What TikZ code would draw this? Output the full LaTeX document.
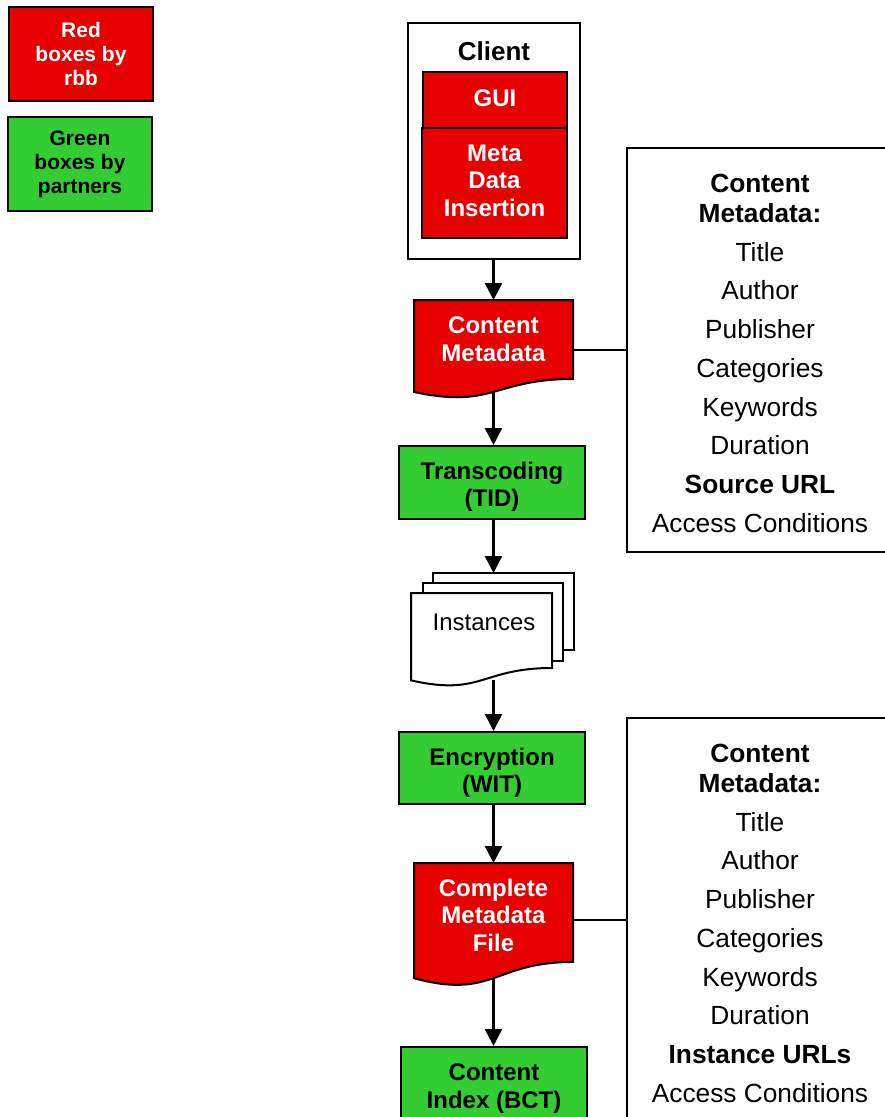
\documentclass[tikz,border=0pt]{standalone}
\usepackage{fontspec}
\setmainfont{Liberation Sans}
\usetikzlibrary{arrows.meta}
\definecolor{rbbred}{RGB}{230,0,0}
\definecolor{partgreen}{RGB}{51,204,51}
\begin{document}
\begin{tikzpicture}[x=1pt,y=-1pt,
  boxline/.style={draw=black,line width=2pt},
  redbox/.style={boxline,fill=rbbred,text=white,font=\bfseries\fontsize{24}{27.5}\selectfont,align=center,inner sep=0pt},
  greenbox/.style={boxline,fill=partgreen,text=black,font=\bfseries\fontsize{24}{27.5}\selectfont,align=center,inner sep=0pt},
  legendred/.style={redbox,font=\bfseries\fontsize{21}{24}\selectfont},
  legendgreen/.style={greenbox,font=\bfseries\fontsize{21}{24}\selectfont},
  anchorbox/.style={draw=none,fill=none,inner sep=0pt,outer sep=0pt},
  docpath/.style n args={4}{insert path={(#1,#2) -- ({#1+#3},#2) -- ({#1+#3},{#2+0.802*#4}) .. controls ({#1+#3/2},{#2+0.802*#4}) and ({#1+#3/2},{#2+1.1075*#4}) .. (#1,{#2+0.934*#4}) -- cycle}},
  flow/.style={line width=2.6pt,-{Triangle[length=17pt,width=17pt]}},
  link/.style={line width=1.2pt},
  infobox/.style={draw=black,line width=1.5pt,fill=white,minimum width=266pt,minimum height=404pt,inner sep=0pt},
  infotext/.style={align=center,font=\fontsize{26.3}{38.7}\selectfont},
  labeltext/.style={align=center,font=\bfseries\fontsize{24}{27.5}\selectfont}
]
\useasboundingbox (0,0) rectangle (884,1117);

% legend
\node[legendred,minimum width=144pt,minimum height=94pt] (legr) at (81,54) {Red\\boxes by\\rbb};
\node[legendgreen,minimum width=144pt,minimum height=94pt] (legg) at (80,164) {Green\\boxes by\\partners};

% client
\node[boxline,fill=white,minimum width=172pt,minimum height=236pt,inner sep=0pt] (client) at (494,141) {};
\node[labeltext,font=\bfseries\fontsize{26}{30}\selectfont] (clientlbl) at (494,51) {Client};
\node[redbox,minimum width=144pt,minimum height=103pt] (gui) at (495,123.5) {};
\node[labeltext,text=white] (guilbl) at (495,98) {GUI};
\node[redbox,minimum width=145pt,minimum height=110pt] (mdi) at (494.5,183) {};
\node[labeltext,text=white] (mdilbl) at (494.5,180.5) {Meta\\Data\\Insertion};

% content metadata document
\draw[boxline,fill=rbbred,docpath={414}{300}{159}{98.5}];
\node[anchorbox,minimum width=159pt,minimum height=92pt] (cm) at (493.5,346) {};
\node[labeltext,text=white] (cmlbl) at (493.5,339) {Content\\Metadata};

% transcoding
\node[greenbox,minimum width=186pt,minimum height=73pt] (tid) at (492,482.5) {};
\node[labeltext] (tidlbl) at (492,487) {Transcoding\\(TID)};

% instances
\draw[boxline,fill=white] (433,573) rectangle (574,650);
\draw[boxline,fill=white] (423,583) rectangle (563,661);
\draw[boxline,fill=white,docpath={411}{593}{141}{93.5}];
\node[anchorbox,minimum width=163pt,minimum height=107pt] (inst) at (492.5,626.5) {};
\node[font=\fontsize{24}{27.5}\selectfont] (instlbl) at (484,622) {Instances};

% encryption
\node[greenbox,minimum width=186pt,minimum height=72pt] (wit) at (492,768) {};
\node[labeltext] (witlbl) at (492,773) {Encryption\\(WIT)};

% complete metadata file
\draw[boxline,fill=rbbred,docpath={414}{863}{159}{123.4}];
\node[anchorbox,minimum width=159pt,minimum height=115pt] (cmf) at (493.5,920.5) {};
\node[labeltext,text=white] (cmflbl) at (493.5,915) {Complete\\Metadata\\File};

% content index
\node[greenbox,minimum width=186pt,minimum height=74pt] (bct) at (494,1084) {};
\node[labeltext] (bctlbl) at (494,1088.5) {Content\\Index (BCT)};

% info boxes
\node[infobox] (meta1) at (760,350) {};
\node[infotext] (meta1txt) at (760,353) {\textbf{Content}\\[-8.2pt]\textbf{Metadata:}\\Title\\Author\\Publisher\\Categories\\Keywords\\Duration\\\textbf{Source URL}\\Access Conditions};
\node[infobox] (meta2) at (760,920) {};
\node[infotext] (meta2txt) at (760,923) {\textbf{Content}\\[-8.2pt]\textbf{Metadata:}\\Title\\Author\\Publisher\\Categories\\Keywords\\Duration\\\textbf{Instance URLs}\\Access Conditions};

% connectors
\draw[flow] (client.south -| cm.north) -- (cm.north);
\draw[flow] (cm.south) -- (cm.south |- tid.north);
\draw[flow] (tid.south -| cm.south) -- (cm.south |- inst.north);
\draw[flow] (inst.south -| cm.south) -- (cm.south |- wit.north);
\draw[flow] (wit.south -| cm.south) -- (cmf.north);
\draw[flow] (cmf.south) -- (cmf.south |- bct.north);
\draw[link] (cm.east |- meta1.west) -- (meta1.west);
\draw[link] (cmf.east |- meta2.west) -- (meta2.west);
\end{tikzpicture}
\end{document}
